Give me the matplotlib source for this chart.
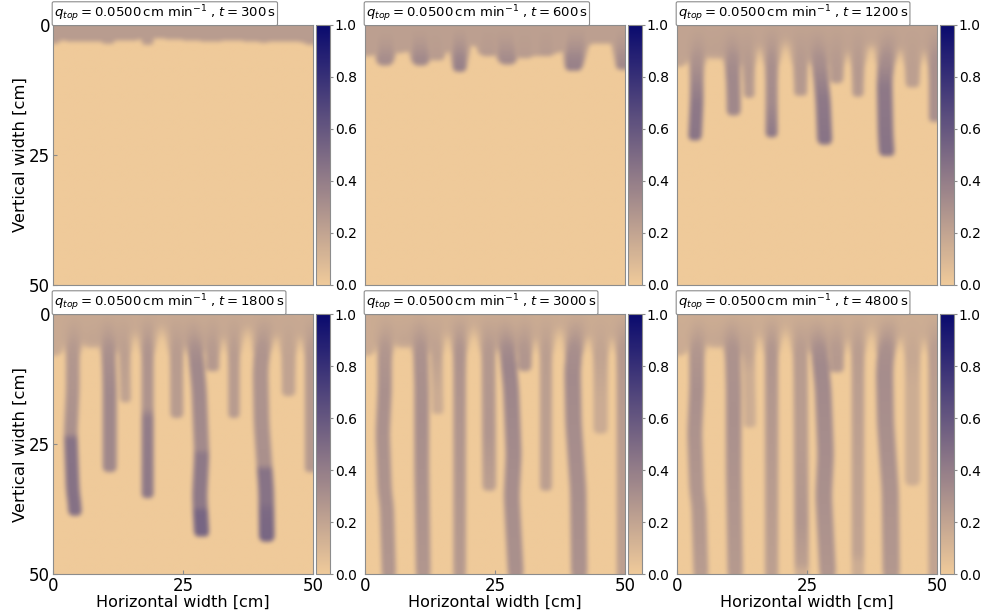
import numpy as np
import matplotlib
matplotlib.use("Agg")
import matplotlib.pyplot as plt
from matplotlib.colors import LinearSegmentedColormap

times = [300, 600, 1200, 1800, 3000, 4800]
q_top = 0.05

# finger centre lines: depth [cm], x [cm]
paths = {
    'M': ([0, 10], [0.0, 0.0]),
    'A': ([0, 8, 14.5, 23, 34, 37, 50], [4.2, 3.8, 3.8, 3.4, 3.8, 4.2, 4.6]),
    'L': ([0, 10], [7.5, 7.5]),
    'B': ([0, 14.5, 30, 50], [10.5, 10.9, 10.9, 11.2]),
    'C': ([0, 5, 19, 25], [13.5, 13.7, 14.0, 14.0]),
    'D': ([0, 50], [18.2, 18.2]),
    'E': ([0, 50], [23.7, 24.0]),
    'F': ([0, 5, 14.5, 27, 35, 50], [26.8, 27.2, 28.1, 28.6, 28.2, 29.0]),
    'G': ([0, 12], [30.7, 30.7]),
    'H': ([0, 50], [34.8, 34.8]),
    'I': ([0, 5, 11, 21, 34, 50], [40.8, 40.4, 39.9, 40.1, 41.0, 41.2]),
    'J': ([0, 35], [45.3, 45.3]),
    'K': ([0, 50], [49.4, 49.4]),
}
half_width = {'M': 1.6, 'A': 1.3, 'L': 1.4, 'B': 1.35, 'C': 1.05, 'D': 1.15, 'E': 1.25,
              'F': 1.45, 'G': 1.25, 'H': 1.1, 'I': 1.5, 'J': 1.3, 'K': 0.95}
width_scale = [1.0, 1.15, 1.0, 1.0, 1.05, 1.1]

# finger tip depth [cm] per panel
tips = [
    {'M': 3.6, 'A': 3.2, 'L': 3.1, 'B': 3.7, 'C': 3.0, 'D': 3.9, 'E': 2.6, 'F': 3.1, 'G': 3.1,
     'H': 3.0, 'I': 3.4, 'J': 3.1, 'K': 3.9},
    {'M': 6.0, 'A': 7.8, 'L': 5.1, 'B': 7.8, 'C': 6.9, 'D': 9.0, 'E': 6.0, 'F': 7.6, 'G': 6.4,
     'H': 6.0, 'I': 8.9, 'J': 3.6, 'K': 8.6},
    {'M': 8.0, 'A': 22.2, 'L': 6.5, 'B': 17.4, 'C': 14.0, 'D': 21.6, 'E': 13.7, 'F': 23.0, 'G': 11.2,
     'H': 13.8, 'I': 25.3, 'J': 12.1, 'K': 18.6},
    {'M': 8.0, 'A': 38.8, 'L': 6.4, 'B': 30.4, 'C': 17.0, 'D': 35.4, 'E': 20.0, 'F': 42.9, 'G': 11.1,
     'H': 20.0, 'I': 43.8, 'J': 15.8, 'K': 30.4},
    {'M': 8.0, 'A': 50.5, 'L': 6.4, 'B': 50.5, 'C': 19.3, 'D': 50.5, 'E': 34.0, 'F': 50.5, 'G': 11.0,
     'H': 34.0, 'I': 50.5, 'J': 23.0, 'K': 50.5},
    {'M': 8.0, 'A': 50.5, 'L': 6.4, 'B': 50.5, 'C': 21.9, 'D': 50.5, 'E': 50.5, 'F': 50.5, 'G': 11.3,
     'H': 50.5, 'I': 50.5, 'J': 33.0, 'K': 50.5},
]

# saturation along each finger: depth knots, values
sat_300 = {k: ([0], [0.24]) for k in paths}
sat_600 = {
    'M': ([0], [0.2]), 'A': ([0, 7], [0.22, 0.32]), 'L': ([0], [0.22]), 'B': ([0, 7], [0.24, 0.34]),
    'C': ([0], [0.24]), 'D': ([0, 8], [0.26, 0.38]), 'E': ([0], [0.25]), 'F': ([0, 7], [0.24, 0.33]),
    'G': ([0], [0.24]), 'H': ([0], [0.25]), 'I': ([0, 8], [0.26, 0.38]), 'J': ([0], [0.22]),
    'K': ([0, 8], [0.25, 0.34]),
}
sat_1200 = {
    'M': ([0], [0.2]), 'A': ([0, 8, 15, 22], [0.24, 0.3, 0.42, 0.44]), 'L': ([0], [0.22]),
    'B': ([0, 10], [0.26, 0.34]), 'C': ([0], [0.25]), 'D': ([0, 15, 21], [0.28, 0.33, 0.42]),
    'E': ([0], [0.25]), 'F': ([0, 8, 14, 23], [0.26, 0.32, 0.42, 0.45]), 'G': ([0], [0.25]),
    'H': ([0], [0.25]), 'I': ([0, 8, 12, 25], [0.26, 0.33, 0.42, 0.45]), 'J': ([0], [0.22]),
    'K': ([0], [0.3]),
}
sat_1800 = {
    'M': ([0], [0.17]), 'A': ([0, 23, 24, 39], [0.24, 0.3, 0.45, 0.46]), 'L': ([0], [0.2]),
    'B': ([0, 15], [0.26, 0.34]), 'C': ([0, 17], [0.24, 0.2]),
    'D': ([0, 18, 20, 35], [0.28, 0.28, 0.4, 0.42]), 'E': ([0], [0.24]),
    'F': ([0, 10, 26, 27, 37, 38, 43], [0.24, 0.34, 0.33, 0.42, 0.42, 0.52, 0.52]), 'G': ([0], [0.25]),
    'H': ([0], [0.24]), 'I': ([0, 29, 30, 36, 38, 44], [0.27, 0.3, 0.45, 0.45, 0.5, 0.52]),
    'J': ([0], [0.2]), 'K': ([0], [0.25]),
}
sat_3000 = {
    'M': ([0], [0.16]), 'A': ([0, 15, 50], [0.24, 0.3, 0.27]), 'L': ([0], [0.2]),
    'B': ([0, 20, 50], [0.28, 0.31, 0.27]), 'C': ([0, 8, 19], [0.22, 0.21, 0.13]), 'D': ([0, 50], [0.29, 0.25]),
    'E': ([0, 23, 34], [0.25, 0.27, 0.22]), 'F': ([0, 10, 35, 50], [0.26, 0.36, 0.31, 0.3]),
    'G': ([0, 11], [0.26, 0.27]), 'H': ([0, 34], [0.23, 0.22]), 'I': ([0, 12, 50], [0.28, 0.33, 0.29]),
    'J': ([0, 8, 23], [0.18, 0.2, 0.13]), 'K': ([0, 50], [0.26, 0.22]),
}
sat_4800 = {
    'M': ([0], [0.16]), 'A': ([0, 15, 50], [0.24, 0.3, 0.24]), 'L': ([0], [0.19]),
    'B': ([0, 20, 50], [0.28, 0.3, 0.25]), 'C': ([0, 8, 15, 22], [0.22, 0.2, 0.1, 0.08]),
    'D': ([0, 50], [0.28, 0.22]), 'E': ([0, 23, 40, 48, 50], [0.24, 0.24, 0.27, 0.22, 0.12]),
    'F': ([0, 10, 35, 50], [0.26, 0.34, 0.3, 0.27]), 'G': ([0, 11], [0.25, 0.25]),
    'H': ([0, 30, 46, 50], [0.24, 0.21, 0.2, 0.1]), 'I': ([0, 12, 50], [0.28, 0.32, 0.26]),
    'J': ([0, 8, 20, 33], [0.16, 0.18, 0.12, 0.08]), 'K': ([0, 50], [0.24, 0.2]),
}
saturations = [sat_300, sat_600, sat_1200, sat_1800, sat_3000, sat_4800]

# wetted top layer between the fingers
top_x = [0, 5, 10, 15, 20, 25, 30, 35, 40, 45, 50]
top_depth = [
    [3.0, 3.2, 3.1, 3.0, 2.6, 2.9, 3.2, 3.0, 3.3, 3.1, 3.5],
    [5.8, 5.6, 5.0, 5.6, 3.8, 5.2, 6.0, 6.0, 4.5, 3.4, 3.8],
    [5.2, 4.0, 3.2, 3.0, 2.6, 3.0, 4.0, 4.0, 4.0, 3.2, 3.0],
    [3.5, 3.0, 2.5, 2.5, 2.0, 2.0, 3.0, 2.5, 3.0, 2.5, 2.0],
    [3.5, 3.0, 2.5, 2.5, 2.0, 2.0, 3.0, 2.5, 3.0, 2.5, 2.0],
    [3.5, 3.0, 2.5, 2.5, 2.0, 2.0, 3.0, 2.5, 3.0, 2.5, 2.0],
]
top_sat = [0.24, 0.22, 0.2, 0.17, 0.16, 0.15]
funnel_depth = [0, 2, 5, 8, 12]
funnel_extra = [[0, 0, 0, 0, 0], [1.6, 1.3, 0.7, 0.1, 0], [2.4, 1.8, 0.8, 0.2, 0],
                [2.4, 1.6, 0.6, 0.1, 0], [2.4, 1.6, 0.6, 0.1, 0], [2.4, 1.6, 0.6, 0.1, 0]]
top_soft = [False, False, True, True, True, True]

cell = 0.2
xs = np.arange(cell / 2, 50, cell)
zs = np.arange(cell / 2, 50, cell)


def smooth1d(v, n):
    return np.convolve(np.pad(v, n, mode='edge'), np.ones(n) / n, mode='same')[n:-n]


def blur(field, n=5):
    for _ in range(2):
        field = np.apply_along_axis(smooth1d, 0, field, n)
        field = np.apply_along_axis(smooth1d, 1, field, n)
    return field


def build_field(i):
    field = np.zeros((len(zs), len(xs)))
    layer = np.interp(xs, top_x, top_depth[i])
    for col in range(len(xs)):
        field[zs < layer[col], col] = top_sat[i]
    for name, (path_z, path_x) in paths.items():
        tip = tips[i][name]
        sat_z, sat_v = saturations[i][name]
        hw = half_width[name] * width_scale[i]
        centre = smooth1d(np.interp(zs, path_z, path_x), 15)
        for row, z in enumerate(zs):
            if z > tip:
                break
            shrink = 1.0
            if z > tip - hw:
                # blunt finger tip
                shrink = max(1 - ((z - tip + hw) / hw) ** 3, 0) ** (1 / 3)
            dist = np.abs(xs - centre[row])
            # funnel below the top layer in the pale top colour
            w = (hw + np.interp(z, funnel_depth, funnel_extra[i])) * shrink
            cover = np.clip((w - dist) / cell + 0.5, 0, 1)
            field[row] = np.maximum(field[row], top_sat[i] * cover)
            # core of the finger fades in below the top layer
            w = hw * shrink
            cover = np.clip((w - dist) / cell + 0.5, 0, 1)
            fade = np.clip(z / 6, 0, 1)
            v = np.interp(z, sat_z, sat_v)
            v = top_sat[i] + (v - top_sat[i]) * fade
            field[row] = np.maximum(field[row], v * cover)
    out = blur(field)
    if top_soft[i]:
        # the top layer is more washed out once the fingers have left it
        weight = np.clip((8 - zs) / 4, 0, 1)[:, None]
        out = weight * blur(field, 9) + (1 - weight) * out
    return out


cmap = LinearSegmentedColormap.from_list('wet', ['#efca9a', '#0a0a6e'])

W, H = 982, 611
fig = plt.figure(figsize=(W / 100, H / 100), dpi=100)
lefts = [53, 365, 677]
tops = [25, 314]
size = 260
edge = '#8c8c8c'

for i, t in enumerate(times):
    col = i % 3
    row = i // 3
    ax = fig.add_axes([lefts[col] / W, 1 - (tops[row] + size) / H, size / W, size / H])
    im = ax.imshow(build_field(i), cmap=cmap, vmin=0, vmax=1, extent=[0, 50, 50, 0],
                   interpolation='bilinear', aspect='auto')
    ax.set_xticks([0, 25, 50] if row == 1 else [])
    ax.set_yticks([0, 25, 50] if col == 0 else [])
    ax.tick_params(labelsize=12, length=3, direction='in', color=edge, pad=2)
    for s in ax.spines.values():
        s.set_color(edge)
    if col == 0:
        ax.set_ylabel('Vertical width [cm]', fontsize=11.8, labelpad=1)
    if row == 1:
        ax.set_xlabel('Horizontal width [cm]', fontsize=11.5, labelpad=0)
    label = r'$q_{top} = %.4f\,\mathrm{cm\ min^{-1}}$ , $t = %d\,\mathrm{s}$' % (q_top, t)
    ax.text(0.003, 1.004, label, transform=ax.transAxes, fontsize=9.5, va='bottom', ha='left',
            bbox=dict(boxstyle='round,pad=0.12', fc='white', ec=edge, lw=0.8))

    cax = fig.add_axes([(lefts[col] + size + 3) / W, 1 - (tops[row] + size) / H, 14 / W, size / H])
    cb = fig.colorbar(im, cax=cax)
    cb.set_ticks([0, 0.2, 0.4, 0.6, 0.8, 1.0])
    cb.ax.tick_params(labelsize=10, length=2, color=edge, pad=1.5)
    cb.outline.set_edgecolor(edge)

fig.savefig('out.png', dpi=100)
